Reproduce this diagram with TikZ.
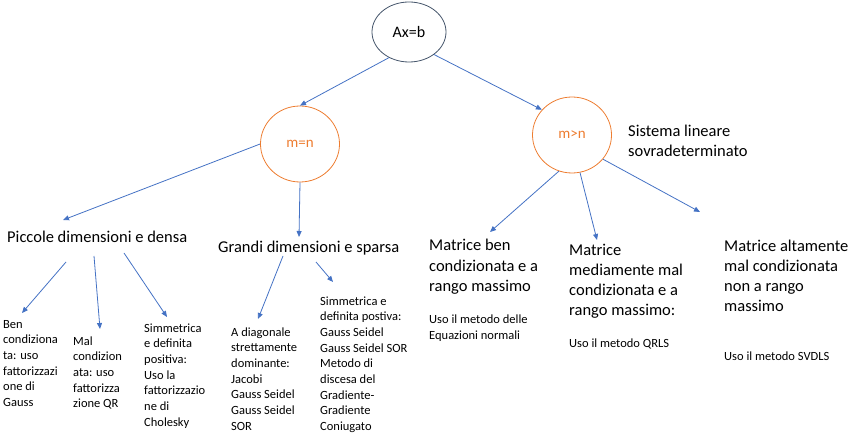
\documentclass[tikz,border=0pt]{standalone}
\usepackage{fontspec}
\setmainfont{Carlito}
\usetikzlibrary{arrows.meta,shapes.geometric}
\definecolor{arblue}{HTML}{4472C4}
\definecolor{orng}{HTML}{ED7D31}
\definecolor{slate}{HTML}{44546A}
\tikzset{
  arr/.style={draw=arblue, line width=0.8pt, -{Triangle[length=6pt,width=5pt]}},
  root/.style={ellipse, draw=slate, line width=0.8pt, minimum width=74pt, minimum height=60pt, inner sep=0, font=\fontsize{16}{19}\selectfont},
  sub/.style={ellipse, draw=orng, line width=0.8pt, minimum width=79pt, minimum height=76pt, inner sep=0, text=orng, font=\fontsize{15}{18}\selectfont},
  big/.style={anchor=base west, inner sep=0, align=left, font=\fontsize{16.5}{20.3}\selectfont},
  small/.style={anchor=base west, inner sep=0, align=left, font=\fontsize{12.5}{15.7}\selectfont},
}
\begin{document}
\begin{tikzpicture}[x=1pt,y=-1pt]
\useasboundingbox (0,0) rectangle (851,435);
% ellipses
\node[root] (ax) at (409,32) {Ax=b};
\node[sub] (mn) at (300,144) {m=n};
\node[sub] (mg) at (572,135) {m>n};
% anchors below are the baseline of the LAST line of each text
\node[big] (sis) at (628,157) {Sistema lineare\\sovradeterminato};
% level 2 texts
\node[big] (pic) at (7,243) {Piccole dimensioni e densa};
\node[big] (gra) at (218,253) {Grandi dimensioni e sparsa};
\node[big] (mben) at (429,291.6) {Matrice ben\\condizionata e a\\rango massimo};
\node[big] (mmed) at (569,316) {Matrice\\mediamente mal\\condizionata e a\\rango massimo:};
\node[big] (malt) at (724,312) {Matrice altamente\\mal condizionata\\non a rango\\massimo};
\node[small] (uben) at (429,339.7) {Uso il metodo delle\\Equazioni normali};
\node[small] (umed) at (569,348) {Uso il metodo QRLS};
\node[small] (ualt) at (724,360) {Uso il metodo SVDLS};
% level 3 texts
\node[small] (ben) at (3,406.5) {Ben\\condiziona\\ta: uso\\fattorizzazi\\one di\\Gauss};
\node[small] (mal) at (73,407.8) {Mal\\condizion\\ata: uso\\fattorizza\\zione QR};
\node[small] (sdp) at (144,426.2) {Simmetrica\\e definita\\positiva:\\Uso la\\fattorizzazio\\ne di\\Cholesky};
\node[small] (dia) at (231,430.2) {A diagonale\\strettamente\\dominante:\\Jacobi\\Gauss Seidel\\Gauss Seidel\\SOR};
\node[small] (sdp2) at (320,430.6) {Simmetrica e\\definita postiva:\\Gauss Seidel\\Gauss Seidel SOR\\Metodo di\\discesa del\\Gradiente-\\Gradiente\\Coniugato};
% coordinates for connector ends
\coordinate (e1) at (63,220);
\coordinate (e2) at (299,237);
\coordinate (e3) at (490,232);
\coordinate (e4) at (597,240);
\coordinate (e5) at (700,212);
\coordinate (s6) at (66,262);  \coordinate (e6) at (22,313);
\coordinate (s7) at (94,256);  \coordinate (e7) at (100,329);
\coordinate (s8) at (124,253); \coordinate (e8) at (167,317);
\coordinate (s9) at (283,256); \coordinate (e9) at (258,319);
\coordinate (s10) at (316,262); \coordinate (e10) at (333,282);
% connectors
\draw[arr] (ax.232) -- (mn.north);
\draw[arr] (ax.-42) -- (mg.140);
\draw[arr] (mn.west) -- (e1);
\draw[arr] (mn.south) -- (e2);
\draw[arr] (mg.250) -- (e3);
\draw[arr] (mg.282) -- (e4);
\draw[arr] (mg.-38) -- (e5);
\draw[arr] (s6) -- (e6);
\draw[arr] (s7) -- (e7);
\draw[arr] (s8) -- (e8);
\draw[arr] (s9) -- (e9);
\draw[arr] (s10) -- (e10);
\end{tikzpicture}
\end{document}
